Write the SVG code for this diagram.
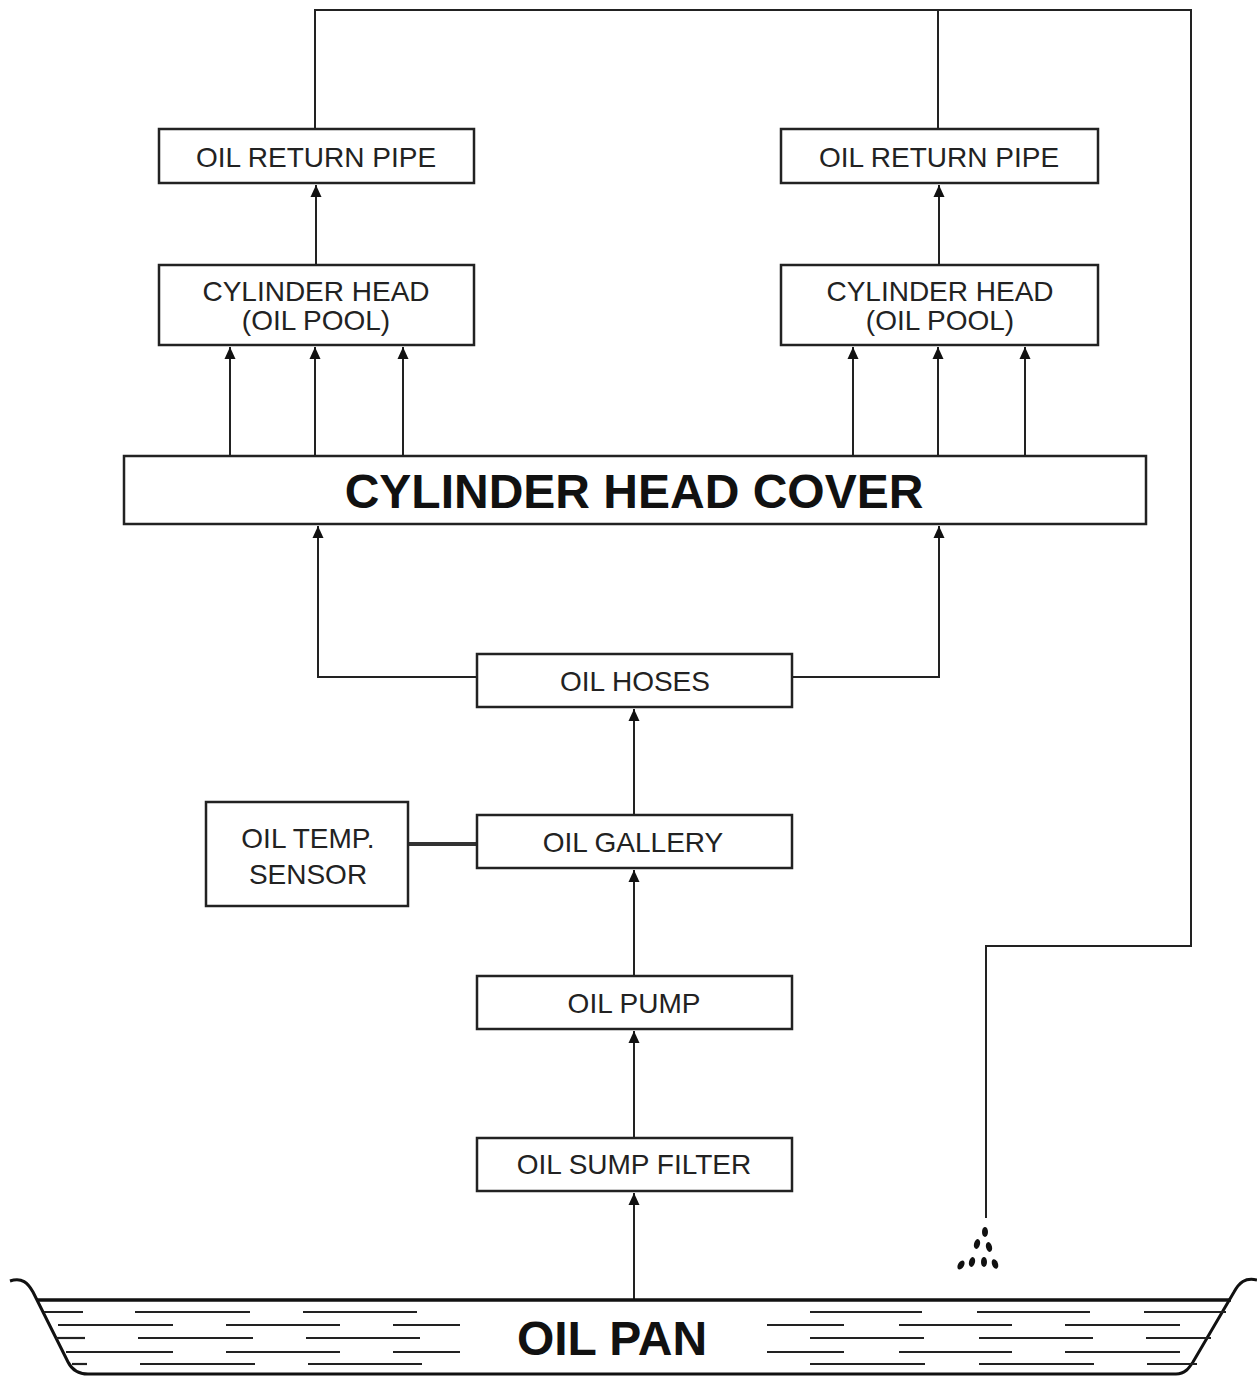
<svg xmlns="http://www.w3.org/2000/svg" width="1257" height="1376" viewBox="0 0 1257 1376">
<style>
.box{fill:#fff;stroke:#222;stroke-width:2.5}
.t{font-family:"Liberation Sans",Arial,sans-serif;font-size:28px;fill:#222;text-anchor:middle}
.tb{font-family:"Liberation Sans",Arial,sans-serif;font-size:48px;font-weight:bold;fill:#111;text-anchor:middle}
.c{fill:none;stroke:#222;stroke-width:2}
.liq{stroke:#222;stroke-width:2.2}
</style>
<defs>
<marker id="ah" viewBox="0 0 12 14" refX="12" refY="7" markerWidth="12" markerHeight="14" markerUnits="userSpaceOnUse" orient="auto">
<path d="M0,1.5 L12,7 L0,12.5 Z" fill="#111"/>
</marker>
</defs>
<rect width="1257" height="1376" fill="#fff"/>
<g id="connectors">
<polyline class="c" points="315,129 315,10 1191,10 1191,946 986,946 986,1218"/>
<line class="c" x1="938" y1="10" x2="938" y2="129"/>
<line class="c" x1="316" y1="265" x2="316" y2="185" marker-end="url(#ah)"/>
<line class="c" x1="939" y1="265" x2="939" y2="185" marker-end="url(#ah)"/>
<line class="c" x1="230" y1="456" x2="230" y2="347" marker-end="url(#ah)"/>
<line class="c" x1="315" y1="456" x2="315" y2="347" marker-end="url(#ah)"/>
<line class="c" x1="403" y1="456" x2="403" y2="347" marker-end="url(#ah)"/>
<line class="c" x1="853" y1="456" x2="853" y2="347" marker-end="url(#ah)"/>
<line class="c" x1="938" y1="456" x2="938" y2="347" marker-end="url(#ah)"/>
<line class="c" x1="1025" y1="456" x2="1025" y2="347" marker-end="url(#ah)"/>
<polyline class="c" points="477,677 318,677 318,526" marker-end="url(#ah)"/>
<polyline class="c" points="792,677 939,677 939,526" marker-end="url(#ah)"/>
<line class="c" x1="634" y1="815" x2="634" y2="709" marker-end="url(#ah)"/>
<line class="c" x1="634" y1="976" x2="634" y2="870" marker-end="url(#ah)"/>
<line class="c" x1="634" y1="1138" x2="634" y2="1031" marker-end="url(#ah)"/>
<line class="c" x1="634" y1="1300" x2="634" y2="1193" marker-end="url(#ah)"/>
<line x1="408" y1="844" x2="477" y2="844" stroke="#333" stroke-width="4"/>
</g>
<g id="drops" fill="#111">
<ellipse cx="985" cy="1232" rx="3" ry="5"/>
<ellipse cx="977" cy="1244" rx="3" ry="5" transform="rotate(15 977 1244)"/>
<ellipse cx="989" cy="1247" rx="3" ry="5" transform="rotate(-15 989 1247)"/>
<ellipse cx="961" cy="1265" rx="3" ry="5" transform="rotate(30 961 1265)"/>
<ellipse cx="972" cy="1262" rx="3" ry="5" transform="rotate(15 972 1262)"/>
<ellipse cx="984" cy="1262" rx="3" ry="5"/>
<ellipse cx="995" cy="1264" rx="3" ry="5" transform="rotate(-20 995 1264)"/>
</g>
<g id="return-pipe-left"><rect class="box" x="159" y="129" width="315" height="54"/><text class="t" x="316" y="167">OIL RETURN PIPE</text></g>
<g id="return-pipe-right"><rect class="box" x="781" y="129" width="317" height="54"/><text class="t" x="939" y="167">OIL RETURN PIPE</text></g>
<g id="cyl-head-left"><rect class="box" x="159" y="265" width="315" height="80"/><text class="t" x="316" y="301">CYLINDER HEAD</text><text class="t" x="316" y="330">(OIL POOL)</text></g>
<g id="cyl-head-right"><rect class="box" x="781" y="265" width="317" height="80"/><text class="t" x="940" y="301">CYLINDER HEAD</text><text class="t" x="940" y="330">(OIL POOL)</text></g>
<g id="head-cover"><rect class="box" x="124" y="456" width="1022" height="68"/><text class="tb" x="634" y="508">CYLINDER HEAD COVER</text></g>
<g id="oil-hoses"><rect class="box" x="477" y="654" width="315" height="53"/><text class="t" x="635" y="691">OIL HOSES</text></g>
<g id="oil-gallery"><rect class="box" x="477" y="815" width="315" height="53"/><text class="t" x="633" y="852">OIL GALLERY</text></g>
<g id="temp-sensor"><rect class="box" x="206" y="802" width="202" height="104"/><text class="t" x="308" y="848">OIL TEMP.</text><text class="t" x="308" y="884">SENSOR</text></g>
<g id="oil-pump"><rect class="box" x="477" y="976" width="315" height="53"/><text class="t" x="634" y="1013">OIL PUMP</text></g>
<g id="sump-filter"><rect class="box" x="477" y="1138" width="315" height="53"/><text class="t" x="634" y="1174">OIL SUMP FILTER</text></g>
<g id="oil-pan">
<path d="M10,1281 C22,1277 28,1283 33,1292 L68,1362 C72,1370 78,1374 88,1374 L1176,1374 C1185,1374 1189,1368 1193,1362 L1234,1292 C1239,1283 1245,1277 1257,1280" fill="none" stroke="#111" stroke-width="3"/>
<line x1="37" y1="1300" x2="1231" y2="1300" stroke="#111" stroke-width="3.5"/>
<g class="liq">
<line x1="44" y1="1312" x2="83" y2="1312"/><line x1="135" y1="1312" x2="250" y2="1312"/><line x1="303" y1="1312" x2="417" y2="1312"/>
<line x1="810" y1="1312" x2="922" y2="1312"/><line x1="977" y1="1312" x2="1090" y2="1312"/><line x1="1144" y1="1312" x2="1226" y2="1312"/>
<line x1="58" y1="1325" x2="173" y2="1325"/><line x1="226" y1="1325" x2="340" y2="1325"/><line x1="393" y1="1325" x2="460" y2="1325"/>
<line x1="767" y1="1325" x2="844" y2="1325"/><line x1="899" y1="1325" x2="1012" y2="1325"/><line x1="1065" y1="1325" x2="1180" y2="1325"/>
<line x1="56" y1="1338" x2="85" y2="1338"/><line x1="138" y1="1338" x2="253" y2="1338"/><line x1="306" y1="1338" x2="420" y2="1338"/>
<line x1="810" y1="1338" x2="924" y2="1338"/><line x1="979" y1="1338" x2="1093" y2="1338"/><line x1="1146" y1="1338" x2="1211" y2="1338"/>
<line x1="66" y1="1352" x2="173" y2="1352"/><line x1="226" y1="1352" x2="340" y2="1352"/><line x1="393" y1="1352" x2="460" y2="1352"/>
<line x1="767" y1="1352" x2="844" y2="1352"/><line x1="899" y1="1352" x2="1012" y2="1352"/><line x1="1065" y1="1352" x2="1180" y2="1352"/>
<line x1="72" y1="1364" x2="87" y2="1364"/><line x1="140" y1="1364" x2="255" y2="1364"/><line x1="308" y1="1364" x2="422" y2="1364"/>
<line x1="810" y1="1364" x2="925" y2="1364"/><line x1="979" y1="1364" x2="1094" y2="1364"/><line x1="1147" y1="1364" x2="1197" y2="1364"/>
</g>
<text class="tb" x="612" y="1355" font-size="46">OIL PAN</text>
</g>
</svg>
